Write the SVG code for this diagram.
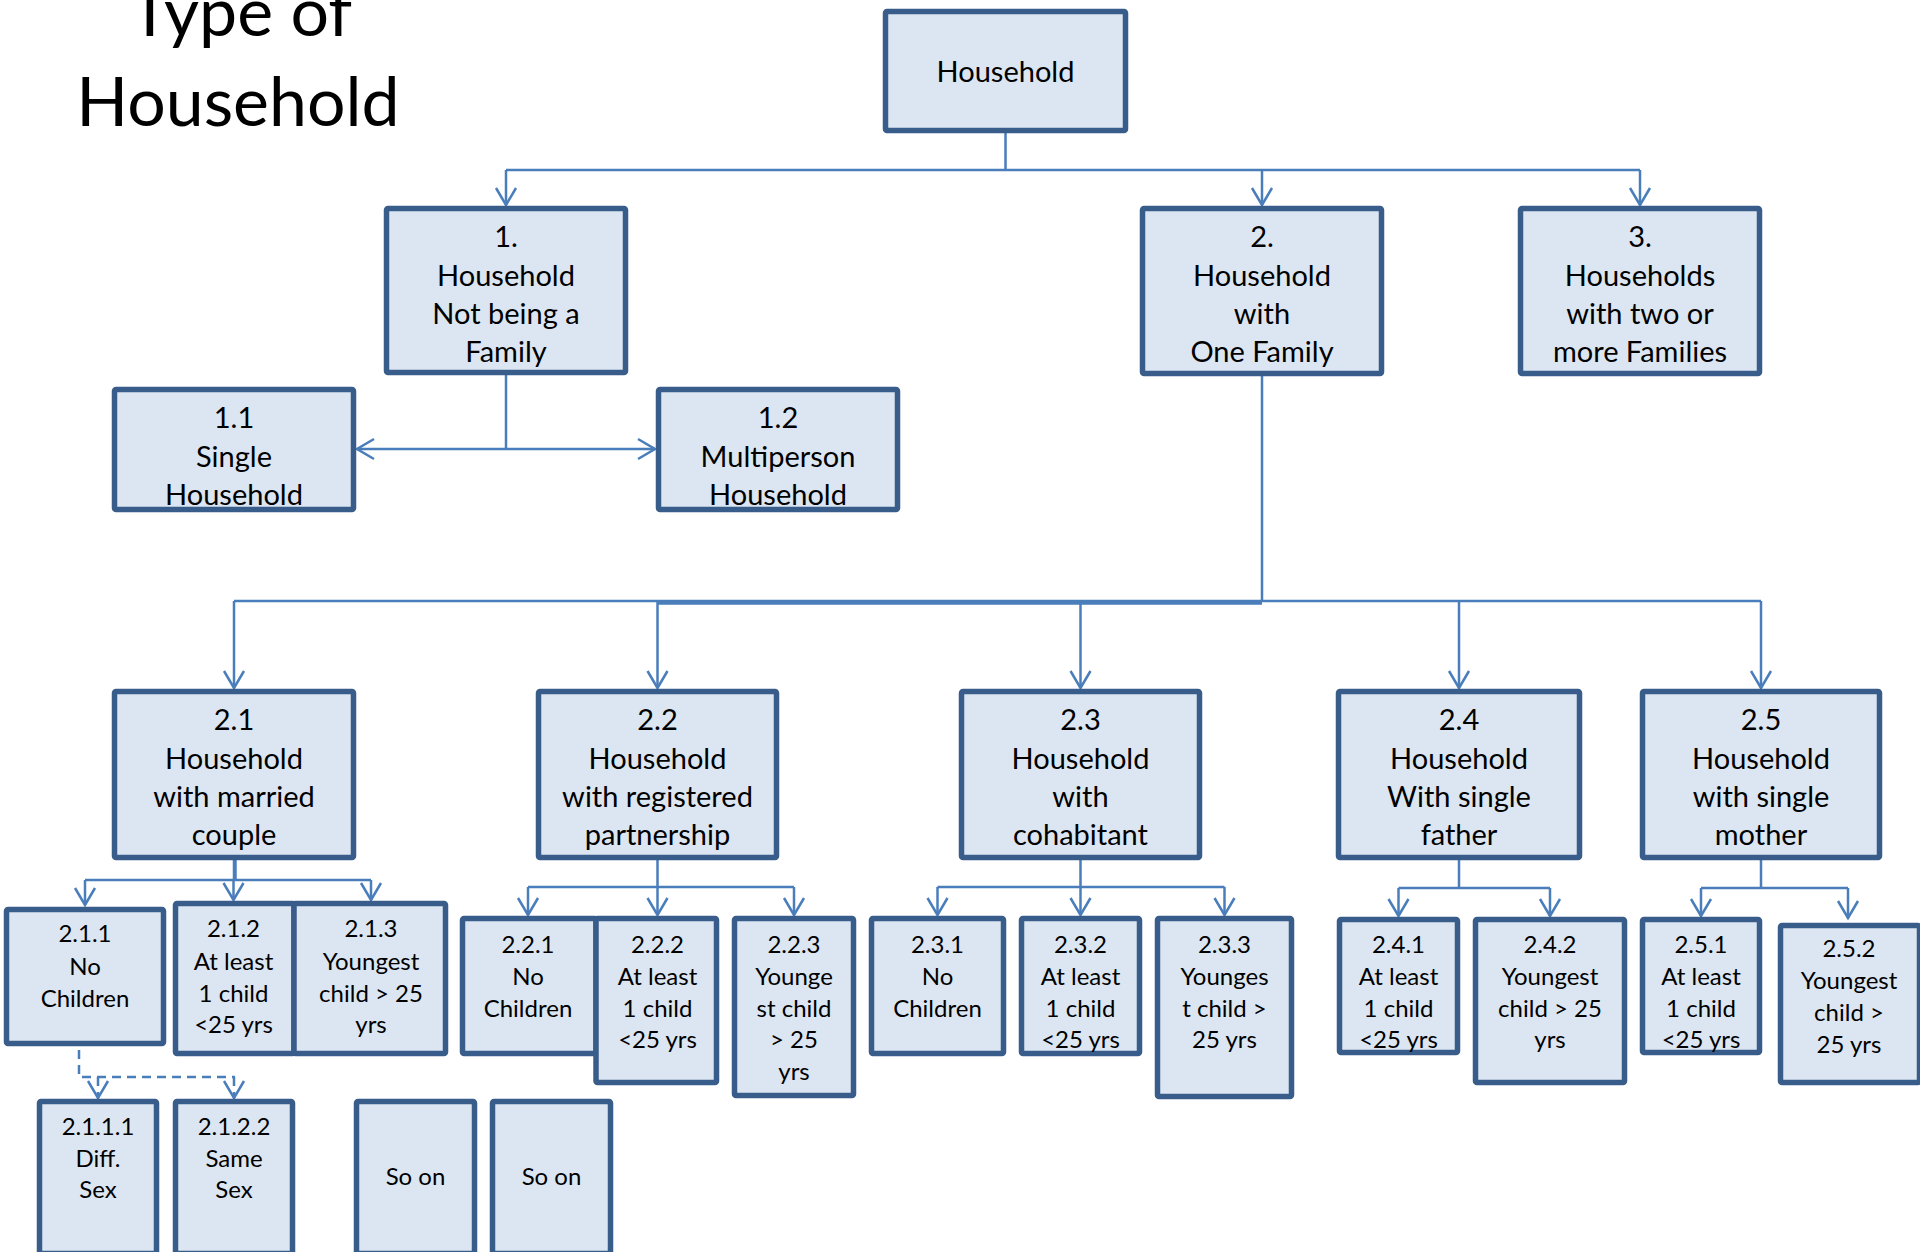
<svg xmlns="http://www.w3.org/2000/svg" width="1920" height="1252" viewBox="0 0 1920 1252">
  <style>
    .box { fill: #dce6f2; stroke: #385d8a; stroke-width: 5.5; }
    .t { font-family: "Lato", "Liberation Sans", sans-serif; fill: #000; text-anchor: middle; }
    .m { font-size: 29px; }
    .s { font-size: 24px; }
    .title { font-size: 68px; }
    .ln { fill: none; stroke: #4a7ebb; stroke-width: 2.5; }
    .arr { marker-end: url(#head); }
    .dash { stroke-dasharray: 9 6; }
  </style>
  <defs>
    <marker id="head" markerUnits="userSpaceOnUse" markerWidth="40" markerHeight="40" viewBox="-20 -20 40 40" refX="0" refY="0" orient="auto" overflow="visible">
      <path d="M-17,-10 L0,0 L-17,10" fill="none" stroke="#4a7ebb" stroke-width="2.5"/>
    </marker>
  </defs>
  <rect width="1920" height="1252" fill="#fff"/>

  <!-- heading -->
  <g id="heading">
    <text class="t title" x="241" y="36">Type of</text>
    <text class="t title" x="238" y="126">Household</text>
  </g>

  <!-- connectors -->
  <g id="connectors">
    <!-- root to level 1 -->
    <path class="ln" d="M1005.5,133 V170 M506,170 H1640"/>
    <path class="ln arr" d="M506,170 V205"/>
    <path class="ln arr" d="M1262,170 V205"/>
    <path class="ln arr" d="M1640,170 V205"/>
    <!-- 1 to 1.1 / 1.2 -->
    <path class="ln" d="M506,375 V449"/>
    <path class="ln arr" d="M506,449 H357"/>
    <path class="ln arr" d="M506,449 H655"/>
    <!-- 2 to level 3 -->
    <path class="ln" d="M1262,376 V601 M234,601 H1761 M658,603.5 H1262"/>
    <path class="ln arr" d="M234,601 V688"/>
    <path class="ln arr" d="M657.5,601 V688"/>
    <path class="ln arr" d="M1080.5,601 V688"/>
    <path class="ln arr" d="M1459,601 V688"/>
    <path class="ln arr" d="M1761,601 V688"/>
    <!-- 2.1 children -->
    <path class="ln" d="M234,858 V880 M85,880 H371" />
    <path class="ln" d="M235.5,856 V880" />
    <path class="ln arr" d="M85,880 V905"/>
    <path class="ln arr" d="M233.5,880 V900"/>
    <path class="ln arr" d="M371,880 V900"/>
    <!-- 2.2 children -->
    <path class="ln" d="M657.5,860 V887 M528,887 H794"/>
    <path class="ln arr" d="M528,887 V915"/>
    <path class="ln arr" d="M657.5,887 V915"/>
    <path class="ln arr" d="M794,887 V915"/>
    <!-- 2.3 children -->
    <path class="ln" d="M1080.5,860 V887 M937.5,887 H1224.5"/>
    <path class="ln arr" d="M937.5,887 V915"/>
    <path class="ln arr" d="M1080.5,887 V915"/>
    <path class="ln arr" d="M1224.5,887 V915"/>
    <!-- 2.4 children -->
    <path class="ln" d="M1459,860 V888 M1398.5,888 H1550"/>
    <path class="ln arr" d="M1398.5,888 V916"/>
    <path class="ln arr" d="M1550,888 V916"/>
    <!-- 2.5 children -->
    <path class="ln" d="M1761,860 V888 M1701,888 H1848"/>
    <path class="ln arr" d="M1701,888 V916"/>
    <path class="ln arr" d="M1848,888 V918"/>
    <!-- 2.1.1 children (dashed) -->
    <path class="ln dash" d="M79,1050 V1077 H235"/>
    <path class="ln dash arr" d="M98,1077 V1098"/>
    <path class="ln dash arr" d="M234,1077 V1098"/>
  </g>

  <!-- root -->
  <g id="n-household">
    <rect class="box" x="885.5" y="11.5" width="240" height="119" rx="1.5"/>
    <text class="t m" x="1005.5" y="82">Household</text>
  </g>

  <!-- level 1 -->
  <g id="n-1">
    <rect class="box" x="386.5" y="208.5" width="239" height="164" rx="1.5"/>
    <text class="t m"><tspan x="506" y="247">1.</tspan><tspan x="506" y="286">Household</tspan><tspan x="506" y="324">Not being a</tspan><tspan x="506" y="362">Family</tspan></text>
  </g>
  <g id="n-2">
    <rect class="box" x="1142.5" y="208.5" width="239" height="165" rx="1.5"/>
    <text class="t m"><tspan x="1262" y="247">2.</tspan><tspan x="1262" y="286">Household</tspan><tspan x="1262" y="324">with</tspan><tspan x="1262" y="362">One Family</tspan></text>
  </g>
  <g id="n-3">
    <rect class="box" x="1520.5" y="208.5" width="239" height="165" rx="1.5"/>
    <text class="t m"><tspan x="1640" y="247">3.</tspan><tspan x="1640" y="286">Households</tspan><tspan x="1640" y="324">with two or</tspan><tspan x="1640" y="362">more Families</tspan></text>
  </g>

  <!-- level 1 children -->
  <g id="n-1-1">
    <rect class="box" x="114.5" y="389.5" width="239" height="120" rx="1.5"/>
    <text class="t m"><tspan x="234" y="428">1.1</tspan><tspan x="234" y="467">Single</tspan><tspan x="234" y="505">Household</tspan></text>
  </g>
  <g id="n-1-2">
    <rect class="box" x="658.5" y="389.5" width="239" height="120" rx="1.5"/>
    <text class="t m"><tspan x="778" y="428">1.2</tspan><tspan x="778" y="467">Multiperson</tspan><tspan x="778" y="505">Household</tspan></text>
  </g>

  <!-- level 2 under "One Family" -->
  <g id="n-2-1">
    <rect class="box" x="114.5" y="691.5" width="239" height="166" rx="1.5"/>
    <text class="t m"><tspan x="234" y="730">2.1</tspan><tspan x="234" y="769">Household</tspan><tspan x="234" y="807">with married</tspan><tspan x="234" y="845">couple</tspan></text>
  </g>
  <g id="n-2-2">
    <rect class="box" x="538.5" y="691.5" width="238" height="166" rx="1.5"/>
    <text class="t m"><tspan x="657.5" y="730">2.2</tspan><tspan x="657.5" y="769">Household</tspan><tspan x="657.5" y="807">with registered</tspan><tspan x="657.5" y="845">partnership</tspan></text>
  </g>
  <g id="n-2-3">
    <rect class="box" x="961.5" y="691.5" width="238" height="166" rx="1.5"/>
    <text class="t m"><tspan x="1080.5" y="730">2.3</tspan><tspan x="1080.5" y="769">Household</tspan><tspan x="1080.5" y="807">with</tspan><tspan x="1080.5" y="845">cohabitant</tspan></text>
  </g>
  <g id="n-2-4">
    <rect class="box" x="1338.5" y="691.5" width="241" height="166" rx="1.5"/>
    <text class="t m"><tspan x="1459" y="730">2.4</tspan><tspan x="1459" y="769">Household</tspan><tspan x="1459" y="807">With single</tspan><tspan x="1459" y="845">father</tspan></text>
  </g>
  <g id="n-2-5">
    <rect class="box" x="1642.5" y="691.5" width="237" height="166" rx="1.5"/>
    <text class="t m"><tspan x="1761" y="730">2.5</tspan><tspan x="1761" y="769">Household</tspan><tspan x="1761" y="807">with single</tspan><tspan x="1761" y="845">mother</tspan></text>
  </g>

  <!-- children of 2.1 -->
  <g id="n-2-1-1">
    <rect class="box" x="6.5" y="909.5" width="157" height="134" rx="1.5"/>
    <text class="t s"><tspan x="85" y="942">2.1.1</tspan><tspan x="85" y="975">No</tspan><tspan x="85" y="1007">Children</tspan></text>
  </g>
  <g id="n-2-1-2">
    <rect class="box" x="175.5" y="903.5" width="118.5" height="150" rx="1.5"/>
    <text class="t s"><tspan x="233.5" y="937">2.1.2</tspan><tspan x="233.5" y="970">At least</tspan><tspan x="233.5" y="1002">1 child</tspan><tspan x="233.5" y="1033">&lt;25 yrs</tspan></text>
  </g>
  <g id="n-2-1-3">
    <rect class="box" x="294" y="903.5" width="151.5" height="150" rx="1.5"/>
    <text class="t s"><tspan x="371" y="937">2.1.3</tspan><tspan x="371" y="970">Youngest</tspan><tspan x="371" y="1002">child &gt; 25</tspan><tspan x="371" y="1033">yrs</tspan></text>
  </g>

  <!-- children of 2.2 -->
  <g id="n-2-2-1">
    <rect class="box" x="462.5" y="918.5" width="133.5" height="135" rx="1.5"/>
    <text class="t s"><tspan x="528" y="953">2.2.1</tspan><tspan x="528" y="985">No</tspan><tspan x="528" y="1017">Children</tspan></text>
  </g>
  <g id="n-2-2-2">
    <rect class="box" x="596" y="918.5" width="120.5" height="164" rx="1.5"/>
    <text class="t s"><tspan x="657.5" y="953">2.2.2</tspan><tspan x="657.5" y="985">At least</tspan><tspan x="657.5" y="1017">1 child</tspan><tspan x="657.5" y="1048">&lt;25 yrs</tspan></text>
  </g>
  <g id="n-2-2-3">
    <rect class="box" x="734.5" y="918.5" width="119" height="177" rx="1.5"/>
    <text class="t s"><tspan x="794" y="953">2.2.3</tspan><tspan x="794" y="985">Younge</tspan><tspan x="794" y="1017">st child</tspan><tspan x="794" y="1048">&gt; 25</tspan><tspan x="794" y="1080">yrs</tspan></text>
  </g>

  <!-- children of 2.3 -->
  <g id="n-2-3-1">
    <rect class="box" x="871.5" y="918.5" width="132" height="135" rx="1.5"/>
    <text class="t s"><tspan x="937.5" y="953">2.3.1</tspan><tspan x="937.5" y="985">No</tspan><tspan x="937.5" y="1017">Children</tspan></text>
  </g>
  <g id="n-2-3-2">
    <rect class="box" x="1021.5" y="918.5" width="118" height="135" rx="1.5"/>
    <text class="t s"><tspan x="1080.5" y="953">2.3.2</tspan><tspan x="1080.5" y="985">At least</tspan><tspan x="1080.5" y="1017">1 child</tspan><tspan x="1080.5" y="1048">&lt;25 yrs</tspan></text>
  </g>
  <g id="n-2-3-3">
    <rect class="box" x="1157.5" y="918.5" width="134" height="178" rx="1.5"/>
    <text class="t s"><tspan x="1224.5" y="953">2.3.3</tspan><tspan x="1224.5" y="985">Younges</tspan><tspan x="1224.5" y="1017">t child &gt;</tspan><tspan x="1224.5" y="1048">25 yrs</tspan></text>
  </g>

  <!-- children of 2.4 -->
  <g id="n-2-4-1">
    <rect class="box" x="1339.5" y="919.5" width="118" height="133" rx="1.5"/>
    <text class="t s"><tspan x="1398.5" y="953">2.4.1</tspan><tspan x="1398.5" y="985">At least</tspan><tspan x="1398.5" y="1017">1 child</tspan><tspan x="1398.5" y="1048">&lt;25 yrs</tspan></text>
  </g>
  <g id="n-2-4-2">
    <rect class="box" x="1475.5" y="919.5" width="149" height="163" rx="1.5"/>
    <text class="t s"><tspan x="1550" y="953">2.4.2</tspan><tspan x="1550" y="985">Youngest</tspan><tspan x="1550" y="1017">child &gt; 25</tspan><tspan x="1550" y="1048">yrs</tspan></text>
  </g>

  <!-- children of 2.5 -->
  <g id="n-2-5-1">
    <rect class="box" x="1642.5" y="919.5" width="117" height="133" rx="1.5"/>
    <text class="t s"><tspan x="1701" y="953">2.5.1</tspan><tspan x="1701" y="985">At least</tspan><tspan x="1701" y="1017">1 child</tspan><tspan x="1701" y="1048">&lt;25 yrs</tspan></text>
  </g>
  <g id="n-2-5-2">
    <rect class="box" x="1780.5" y="925.5" width="139" height="157" rx="1.5"/>
    <text class="t s"><tspan x="1849" y="957">2.5.2</tspan><tspan x="1849" y="989">Youngest</tspan><tspan x="1849" y="1021">child &gt;</tspan><tspan x="1849" y="1053">25 yrs</tspan></text>
  </g>

  <!-- children of 2.1.1 and continuation boxes -->
  <g id="n-2-1-1-1">
    <rect class="box" x="39.5" y="1101.5" width="117" height="152" rx="1.5"/>
    <text class="t s"><tspan x="98" y="1135">2.1.1.1</tspan><tspan x="98" y="1167">Diff.</tspan><tspan x="98" y="1198">Sex</tspan></text>
  </g>
  <g id="n-2-1-2-2">
    <rect class="box" x="175.5" y="1101.5" width="117" height="152" rx="1.5"/>
    <text class="t s"><tspan x="234" y="1135">2.1.2.2</tspan><tspan x="234" y="1167">Same</tspan><tspan x="234" y="1198">Sex</tspan></text>
  </g>
  <g id="n-so-on-1">
    <rect class="box" x="356.5" y="1101.5" width="118" height="152" rx="1.5"/>
    <text class="t s" x="415.5" y="1185">So on</text>
  </g>
  <g id="n-so-on-2">
    <rect class="box" x="492.5" y="1101.5" width="118" height="152" rx="1.5"/>
    <text class="t s" x="551.5" y="1185">So on</text>
  </g>
</svg>
